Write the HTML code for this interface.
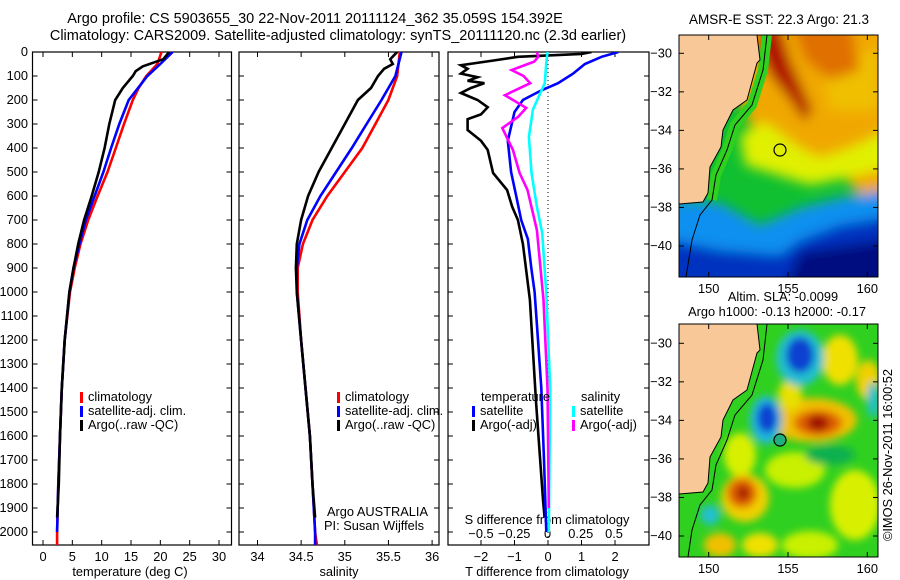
<!DOCTYPE html>
<html><head><meta charset="utf-8"><style>
html,body{margin:0;padding:0;background:#fff;}
svg{display:block;font-family:"Liberation Sans",sans-serif;}
text{font-size:12.8px;fill:#000;}
</style></head><body>
<svg id="fig" width="900" height="580" viewBox="0 0 900 580" xmlns="http://www.w3.org/2000/svg">
<defs>
<clipPath id="c1"><rect x="32.5" y="52" width="199" height="493"/></clipPath>
<clipPath id="c2"><rect x="239" y="52" width="200" height="493"/></clipPath>
<clipPath id="c3"><rect x="448" y="52" width="201" height="493"/></clipPath>
<clipPath id="m1"><rect x="679" y="35" width="199" height="242"/></clipPath>
<clipPath id="m2"><rect x="679" y="324" width="199" height="233"/></clipPath>
<filter id="bl" x="-50%" y="-50%" width="200%" height="200%"><feGaussianBlur stdDeviation="6"/></filter>
<filter id="bs" x="-50%" y="-50%" width="200%" height="200%"><feGaussianBlur stdDeviation="4"/></filter>
</defs>
<text x="315" y="23" text-anchor="middle" style="font-size:14.5px">Argo profile: CS 5903655_30 22-Nov-2011 20111124_362 35.059S 154.392E</text>
<text x="338" y="40" text-anchor="middle" style="font-size:14.5px">Climatology: CARS2009. Satellite-adjusted climatology: synTS_20111120.nc (2.3d earlier)</text>

<g id="maps">
<text x="779" y="24" text-anchor="middle" style="font-size:13.5px">AMSR-E SST: 22.3 Argo: 21.3</text>
<g clip-path="url(#m1)">
<rect x="679" y="35" width="199" height="242" fill="#10c030"/>
<g filter="url(#bl)">
<polygon points="745,20 900,20 900,200 860,195 840,172 790,178 765,160 752,130 740,100" fill="#f0a800"/>
<polygon points="740,135 765,122 800,148 820,158 850,148 900,125 900,165 860,175 810,185 745,165" fill="#e0f000"/>
<polygon points="820,60 878,50 878,110 830,110" fill="#f0c000"/>
<polygon points="763,20 778,20 790,60 812,110 805,122 790,100 770,75 758,50" fill="#b01000"/>
<polygon points="790,20 850,20 860,70 830,80 805,60" fill="#e07000"/>
<polygon points="660,198 720,203 760,225 800,208 840,198 900,188 900,300 660,300" fill="#1090f0"/>
<polygon points="660,238 720,250 780,255 800,240 840,225 900,215 900,300 660,300" fill="#0030c0"/>
<polygon points="800,252 900,238 900,300 780,300" fill="#000a80"/>
</g>
<polyline points="767,35 763,70 752,105 735,125 727,150 716,175 712,200" fill="none" stroke="#30d020" stroke-width="10"/>
<polygon points="757,35 760,60 757,63 747,100 733,110 723,130 721,147 710,167 708,193 703,202 679,204 679,35" fill="#f8c898"/>
<polyline points="767,35 763,70 752,105 735,125 727,150 716,175 712,200 700,215 692,240 686,277" fill="none" stroke="#000" stroke-width="1"/>
<polyline points="757,35 760,60 757,63 747,100 733,110 723,130 721,147 710,167 708,193 703,202 679,204" fill="none" stroke="#000" stroke-width="1"/>
<circle cx="780" cy="150" r="6" fill="none" stroke="#000" stroke-width="1.2"/>
</g>
<rect x="679" y="35" width="199" height="242" fill="none" stroke="#000"/>

<text x="783" y="301" text-anchor="middle">Altim. SLA: -0.0099</text>
<text x="777" y="316" text-anchor="middle">Argo h1000: -0.13 h2000: -0.17</text>
<g clip-path="url(#m2)">
<rect x="679" y="324" width="199" height="233" fill="#30d020"/>
<g filter="url(#bs)">
<ellipse cx="840" cy="360" rx="18" ry="25" fill="#f0e000"/>
<ellipse cx="868" cy="380" rx="12" ry="20" fill="#f0d000"/>
<ellipse cx="812" cy="420" rx="45" ry="22" fill="#f0c000"/>
<ellipse cx="790" cy="395" rx="12" ry="15" fill="#e8e000"/>
<ellipse cx="740" cy="455" rx="16" ry="22" fill="#d8f000"/>
<ellipse cx="795" cy="470" rx="30" ry="18" fill="#c8f000"/>
<ellipse cx="855" cy="505" rx="25" ry="35" fill="#d8f000"/>
<ellipse cx="745" cy="498" rx="24" ry="24" fill="#f0d000"/>
<ellipse cx="720" cy="545" rx="16" ry="12" fill="#f0c000"/>
<ellipse cx="760" cy="545" rx="18" ry="12" fill="#f0e000"/>
<ellipse cx="810" cy="545" rx="28" ry="14" fill="#c8f000"/>
<ellipse cx="830" cy="455" rx="25" ry="10" fill="#10b050"/>
<ellipse cx="800" cy="358" rx="24" ry="28" fill="#20c0d0"/>
<ellipse cx="766" cy="420" rx="16" ry="24" fill="#20b8e0"/>
<ellipse cx="710" cy="515" rx="10" ry="10" fill="#20c0d0"/>
<ellipse cx="873" cy="400" rx="6" ry="18" fill="#20c0d0"/>
<ellipse cx="800" cy="355" rx="14" ry="18" fill="#0840d0"/>
<ellipse cx="767" cy="418" rx="10" ry="15" fill="#0840d0"/>
<ellipse cx="818" cy="423" rx="24" ry="13" fill="#e06000"/>
<ellipse cx="742" cy="493" rx="15" ry="15" fill="#e06000"/>
<ellipse cx="818" cy="423" rx="11" ry="8" fill="#a00800"/>
<ellipse cx="743" cy="493" rx="6" ry="7" fill="#a00800"/>
</g>
<polygon points="757,324 760,350 757,353 747,390 733,400 723,420 721,437 710,457 708,483 703,492 679,494 679,324" fill="#f8c898"/>
<polyline points="767,324 763,360 752,395 735,415 727,440 716,465 712,490 700,505 692,530 688,557" fill="none" stroke="#000" stroke-width="1"/>
<polyline points="757,324 760,350 757,353 747,390 733,400 723,420 721,437 710,457 708,483 703,492 679,494" fill="none" stroke="#000" stroke-width="1"/>
<circle cx="780" cy="440" r="6" fill="#20b080" stroke="#000" stroke-width="1.2"/>
</g>
<rect x="679" y="324" width="199" height="233" fill="none" stroke="#000"/>
<text transform="translate(892,455) rotate(-90)" text-anchor="middle">©IMOS 26-Nov-2011 16:00:52</text>
</g>
<g id="dyn"></g>
</svg>
<script>
// ---- data ----
const tempDepthClim = [0,50,100,150,200,300,400,500,600,700,800,900,1000,1200,1400,1600,1800,2000,2054];
const tempClim      = [20.2,19.5,17.6,16.3,15.3,13.8,12.4,11.0,9.3,7.7,6.4,5.4,4.6,3.7,3.2,2.9,2.6,2.4,2.4];
const tempDepthSat  = [0,50,100,200,300,400,500,600,700,800,900,1000,1200,1400,1600,1800,2000];
const tempSat       = [22.1,20.0,17.8,14.6,13.0,11.6,10.3,8.8,7.3,6.2,5.2,4.5,3.7,3.2,2.9,2.6,2.4];
const tempDepthArgo = [0,30,60,80,100,150,200,300,400,500,600,700,800,900,1000,1200,1400,1600,1800,1940];
const tempArgo      = [21.5,20.5,17.0,15.8,15.3,13.6,12.3,11.3,10.5,9.5,8.3,7.0,6.0,5.2,4.5,3.7,3.2,2.9,2.7,2.4];

const salDepth      = [0,100,200,300,400,500,600,700,800,900,1000,1200,1400,1600,1800,2000,2054];
const salClim       = [35.63,35.6,35.5,35.35,35.2,35.0,34.8,34.63,34.52,34.46,34.46,34.5,34.55,34.6,34.63,34.66,34.68];
const salSat        = [35.65,35.58,35.42,35.25,35.08,34.9,34.72,34.57,34.48,34.45,34.45,34.5,34.55,34.6,34.63,34.66,34.66];
const salDepthArgo  = [0,30,50,70,100,150,200,300,400,500,600,700,800,900,1000,1200,1400,1600,1800,1940];
const salArgo       = [35.6,35.52,35.55,35.45,35.38,35.3,35.15,35.0,34.85,34.7,34.58,34.5,34.45,34.44,34.45,34.5,34.55,34.6,34.63,34.66];

const dtDepthSat = [0,20,50,90,130,160,200,250,370,500,600,700,780,900,1000,1200,1400,1700,2000];
const dtSat      = [2.1,1.6,1.1,0.75,0.3,-0.2,-0.75,-1.0,-1.2,-1.1,-0.95,-0.8,-0.6,-0.5,-0.4,-0.3,-0.2,-0.12,-0.05];
const dtDepthArgo = [0,8,20,35,55,70,90,105,120,130,150,171,200,230,260,280,325,370,408,504,575,645,700,800,1033,1450,1866,1940];
const dtArgo      = [1.3,1.0,-0.9,-1.6,-2.6,-2.4,-2.6,-2.1,-2.4,-1.9,-2.3,-2.6,-2.1,-1.8,-2.0,-2.4,-2.4,-2.0,-1.8,-1.64,-1.22,-1.07,-0.9,-0.75,-0.54,-0.36,-0.15,-0.1];
const dsDepthSat = [0,50,130,240,354,504,645,754,1000,1400,2000];
const dsSat      = [0.0,-0.01,-0.02,-0.11,-0.14,-0.12,-0.08,-0.04,-0.01,0.02,0.01];
const dsDepthArgo = [0,20,40,75,100,130,180,233,270,317,408,504,575,742,1033,1400,1900];
const dsArgo      = [-0.08,-0.07,-0.1,-0.27,-0.18,-0.13,-0.32,-0.16,-0.22,-0.34,-0.26,-0.21,-0.15,-0.08,-0.03,0.0,0.01];

const depthTicks = [0,100,200,300,400,500,600,700,800,900,1000,1100,1200,1300,1400,1500,1600,1700,1800,1900,2000];
const tempTicks = [0,5,10,15,20,25,30];
const salTicks = [34,34.5,35,35.5,36];
const salTickLabels = ["34","34.5","35","35.5","36"];
const dtTicks = [-2,-1,0,1,2];
const dsTicks = [-0.5,-0.25,0,0.25,0.5];
const dsTickLabels = ["\u22120.5","\u22120.25","0","0.25","0.5"];
const latTicks = [-30,-32,-34,-36,-38,-40];
const lonTicks = [150,155,160];

// ---- axes ----
const NS='http://www.w3.org/2000/svg';
const root=document.getElementById('dyn');
const yD = d => 52 + d*0.2400;
const xT = t => 43 + t*5.867;
const xS = s => 257.5 + (s-34)*87.3;
const xDT = t => 548 + t*33.5;
const xDS = s => 547.5 + s*133;
function el(tag, attrs, parent){const e=document.createElementNS(NS,tag);for(const k in attrs)e.setAttribute(k,attrs[k]);(parent||root).appendChild(e);return e;}
function txt(x,y,s,anchor,parent){const t=el('text',{x:x,y:y,'text-anchor':anchor||'middle'},parent);t.textContent=s;return t;}
function line(xs,ds,fx,color,clip,name){
  const pts=xs.map((v,i)=>fx(v).toFixed(1)+','+yD(ds[i]).toFixed(1)).join(' ');
  const p=el('polyline',{points:pts,fill:'none',stroke:color,'stroke-width':2.6,'clip-path':'url(#'+clip+')'});
  
  
}
const panels=[{x:32.5,w:199,name:'temperature-panel'},{x:239,w:200,name:'salinity-panel'},{x:448,w:201,name:'difference-panel'}];
panels.forEach(p=>{
  const r=el('rect',{x:p.x,y:52,width:p.w,height:493,fill:'none',stroke:'#000','stroke-width':1.2});
  
  
  depthTicks.forEach(d=>{el('line',{x1:p.x,x2:p.x+5,y1:yD(d),y2:yD(d),stroke:'#000'});el('line',{x1:p.x+p.w-5,x2:p.x+p.w,y1:yD(d),y2:yD(d),stroke:'#000'});});
});
depthTicks.forEach(d=>{const t=txt(28,yD(d)+4,String(d),'end');
  
  });
tempTicks.forEach(v=>{el('line',{x1:xT(v),x2:xT(v),y1:545,y2:540,stroke:'#000'});el('line',{x1:xT(v),x2:xT(v),y1:52,y2:57,stroke:'#000'});
  const t=txt(xT(v),561,String(v));
  
  });
salTicks.forEach((v,i)=>{el('line',{x1:xS(v),x2:xS(v),y1:545,y2:540,stroke:'#000'});el('line',{x1:xS(v),x2:xS(v),y1:52,y2:57,stroke:'#000'});
  const t=txt(xS(v),561,salTickLabels[i]);
  
  });
dtTicks.forEach(v=>{el('line',{x1:xDT(v),x2:xDT(v),y1:545,y2:540,stroke:'#000'});el('line',{x1:xDT(v),x2:xDT(v),y1:52,y2:57,stroke:'#000'});
  const t=txt(xDT(v),561,String(v).replace('-','\u2212'));
  
  });
dsTicks.forEach((v,i)=>{
  const t=txt(xDS(v),538,dsTickLabels[i]);
  
  });
let t;
t=txt(130,576,'temperature (deg C)');  
t=txt(339,576,'salinity');  
t=txt(547,576,'T difference from climatology');  
t=txt(547,524,'S difference from climatology');  
t=txt(327,516,'Argo AUSTRALIA','start');  
t=txt(324,530,'PI: Susan Wijffels','start');  
// zero dotted line
el('line',{x1:548,x2:548,y1:52,y2:545,stroke:'#000','stroke-dasharray':'1,3'});

// series
line(tempClim,tempDepthClim,xT,'#ff0000','c1','temp-climatology-line');
line(tempSat,tempDepthSat,xT,'#0000ff','c1','temp-satellite-line');
line(tempArgo,tempDepthArgo,xT,'#000000','c1','temp-argo-line');
line(salClim,salDepth,xS,'#ff0000','c2','sal-climatology-line');
line(salSat,salDepth.slice(0,salSat.length),xS,'#0000ff','c2','sal-satellite-line');
line(salArgo,salDepthArgo,xS,'#000000','c2','sal-argo-line');
line(dtArgo,dtDepthArgo,xDT,'#000000','c3','t-diff-argo-line');
line(dtSat,dtDepthSat,xDT,'#0000ff','c3','t-diff-satellite-line');
line(dsSat,dsDepthSat,xDS,'#00ffff','c3','s-diff-satellite-line');
line(dsArgo,dsDepthArgo,xDS,'#ff00ff','c3','s-diff-argo-line');

// legends
function leg(x,y,color,label,name){
  const g=el('g',{});
  
  
  el('rect',{x:x,y:y-9,width:3,height:11,fill:color},g);
  txt(x+8,y,label,'start',g);
}
leg(80,401,'#ff0000','climatology','legend-temp-climatology');
leg(80,415,'#0000ff','satellite-adj. clim.','legend-temp-satellite');
leg(80,429,'#000000','Argo(..raw -QC)','legend-temp-argo');
leg(337,401,'#ff0000','climatology','legend-sal-climatology');
leg(337,415,'#0000ff','satellite-adj. clim.','legend-sal-satellite');
leg(337,429,'#000000','Argo(..raw -QC)','legend-sal-argo');
t=txt(481,401,'temperature','start');  
t=txt(581,401,'salinity','start');  
leg(472,415,'#0000ff','satellite','legend-t-diff-satellite');
leg(472,429,'#000000','Argo(-adj)','legend-t-diff-argo');
leg(572,415,'#00ffff','satellite','legend-s-diff-satellite');
leg(572,429,'#ff00ff','Argo(-adj)','legend-s-diff-argo');

// map axes
const latY1 = v => 53.3 + (-30 - v)*19.27;
const lonX = v => 708.7 + (v-150)*15.86;
[[35,277,0],[324,557,290]].forEach(([top,bot,off],mi)=>{
  latTicks.forEach(v=>{const y=latY1(v)+off;
    el('line',{x1:679,x2:684,y1:y,y2:y,stroke:'#000'});el('line',{x1:873,x2:878,y1:y,y2:y,stroke:'#000'});
    const tt=txt(672,y+4,String(v).replace('-','\u2212'),'end');
    
    });
  lonTicks.forEach(v=>{const x=lonX(v);
    el('line',{x1:x,x2:x,y1:top,y2:top+5,stroke:'#000'});el('line',{x1:x,x2:x,y1:bot-5,y2:bot,stroke:'#000'});
    const tt=txt(x,bot+16,String(v));
    
    });
});
</script>
</body></html>
